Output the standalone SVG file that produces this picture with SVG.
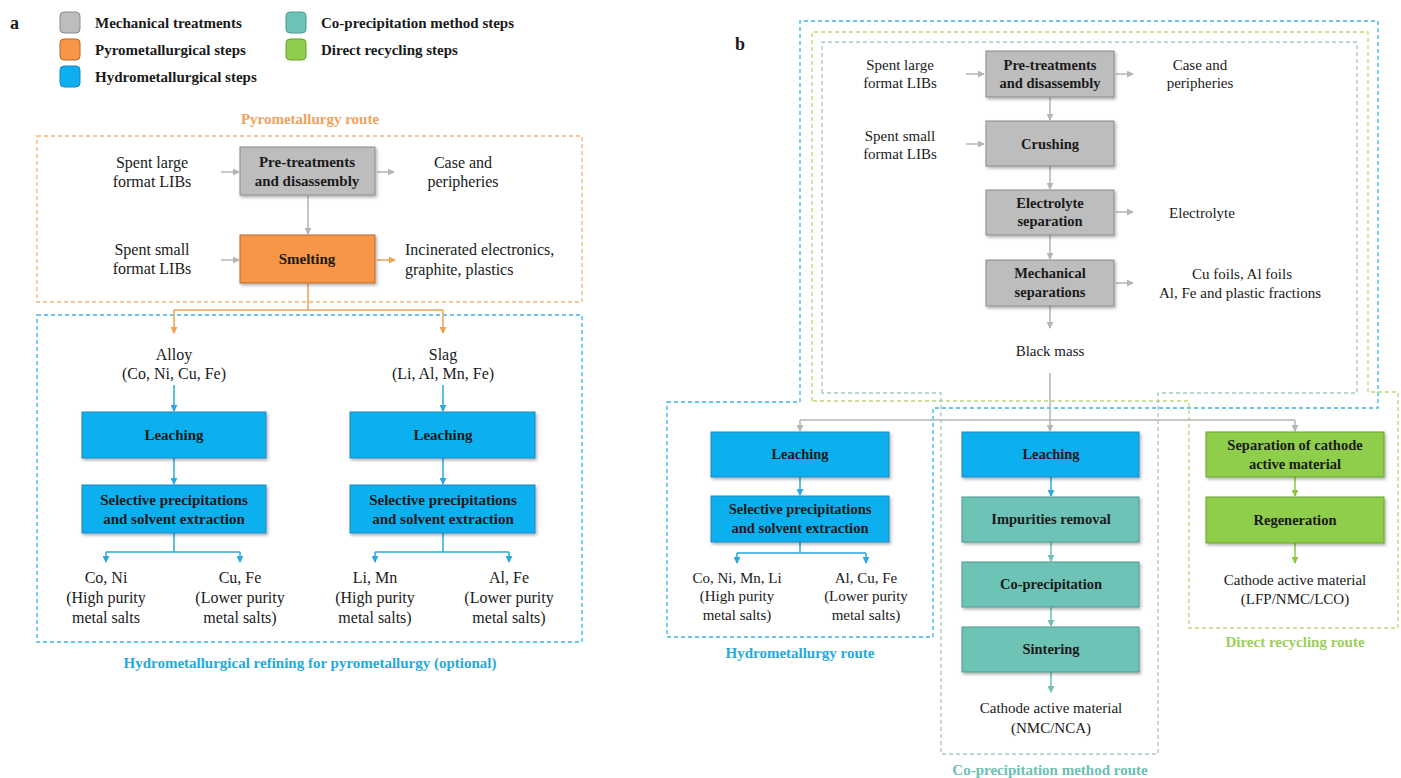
<svg xmlns="http://www.w3.org/2000/svg" width="1401" height="778" viewBox="0 0 1401 778" font-family="'Liberation Serif','Times New Roman',serif">
<style>
text{font-family:"Liberation Serif","Times New Roman",serif;fill:#1a1a1a}
.ta{font-size:16px}
.tb{font-size:15px}
.bx{font-size:15px;font-weight:bold}
.bxb{font-size:14.5px;font-weight:bold}
.lg{font-size:15px;font-weight:bold}
.c{text-anchor:middle}
.gray{fill:#bdbdbd;stroke:#8a8a8a;stroke-width:1}
.orange{fill:#f79646;stroke:#b8682a;stroke-width:1}
.blue{fill:#0db0ef;stroke:#1e86c0;stroke-width:1}
.teal{fill:#6dc3b6;stroke:#4b9a8e;stroke-width:1}
.green{fill:#8fce4c;stroke:#66a02e;stroke-width:1}
.sh{filter:url(#shadow)}
.dash{fill:none;stroke-width:1.3;stroke-dasharray:4 3}
.cg{stroke:#b5b5b5;stroke-width:1.5;fill:none}
.co{stroke:#f0a050;stroke-width:1.5;fill:none}
.cb{stroke:#2aa8e0;stroke-width:1.5;fill:none}
.ct{stroke:#6fbfb3;stroke-width:1.5;fill:none}
.cgr{stroke:#8dc63f;stroke-width:1.5;fill:none}
</style>
<defs>
<filter id="shadow" x="-10%" y="-10%" width="130%" height="140%">
<feDropShadow dx="1.5" dy="2" stdDeviation="1.5" flood-color="#000" flood-opacity="0.3"/>
</filter>
<marker id="ag" viewBox="0 0 8 8" refX="7" refY="4" markerWidth="7" markerHeight="7" markerUnits="userSpaceOnUse" orient="auto"><path d="M0,0 L8,4 L0,8 Z" fill="#b5b5b5"/></marker>
<marker id="ao" viewBox="0 0 8 8" refX="7" refY="4" markerWidth="7" markerHeight="7" markerUnits="userSpaceOnUse" orient="auto"><path d="M0,0 L8,4 L0,8 Z" fill="#f0a050"/></marker>
<marker id="ab" viewBox="0 0 8 8" refX="7" refY="4" markerWidth="7" markerHeight="7" markerUnits="userSpaceOnUse" orient="auto"><path d="M0,0 L8,4 L0,8 Z" fill="#2aa8e0"/></marker>
<marker id="at" viewBox="0 0 8 8" refX="7" refY="4" markerWidth="7" markerHeight="7" markerUnits="userSpaceOnUse" orient="auto"><path d="M0,0 L8,4 L0,8 Z" fill="#6fbfb3"/></marker>
<marker id="agr" viewBox="0 0 8 8" refX="7" refY="4" markerWidth="7" markerHeight="7" markerUnits="userSpaceOnUse" orient="auto"><path d="M0,0 L8,4 L0,8 Z" fill="#8dc63f"/></marker>
</defs>
<rect width="1401" height="778" fill="#ffffff"/>

<text x="10" y="29" style="font-size:18px;font-weight:bold">a</text>
<text x="735" y="50" style="font-size:18px;font-weight:bold">b</text>

<g id="legend">
<rect x="60" y="12" width="20" height="21" rx="4" class="gray"/>
<text x="95" y="28" class="lg">Mechanical treatments</text>
<rect x="60" y="39" width="20" height="21" rx="4" class="orange"/>
<text x="95" y="55" class="lg">Pyrometallurgical steps</text>
<rect x="60" y="66" width="20" height="21" rx="4" class="blue"/>
<text x="95" y="82" class="lg">Hydrometallurgical steps</text>
<rect x="286" y="12" width="20" height="21" rx="4" class="teal"/>
<text x="321" y="28" class="lg">Co-precipitation method steps</text>
<rect x="286" y="39" width="20" height="21" rx="4" class="green"/>
<text x="321" y="55" class="lg">Direct recycling steps</text>
</g>

<g id="routes">
<rect x="37" y="136" width="545" height="166" class="dash" stroke="#f2b47a"/>
<text x="310" y="124" class="c" style="font-size:15px;font-weight:bold;fill:#f2a25c">Pyrometallurgy route</text>
<rect x="37" y="315" width="545" height="327" class="dash" stroke="#3cb4e6"/>
<text x="310" y="668" class="c" style="font-size:15px;font-weight:bold;fill:#26a9e0">Hydrometallurgical refining for pyrometallurgy (optional)</text>
<path d="M667,402 H800 V21 H1378 V408 H933 V637 H667 Z" class="dash" stroke="#3cb4e6"/>
<path d="M812,401 V32 H1368 V392 H1398 V628 H1189 V401 Z" class="dash" stroke="#bcd67a"/>
<path d="M822,393 V42 H1357 V393 H1158 V754 H941 V393 Z" class="dash" stroke="#a6c6c4"/>
<text x="800" y="658" class="c" style="font-size:15px;font-weight:bold;fill:#26a9e0">Hydrometallurgy route</text>
<text x="1050" y="775" class="c" style="font-size:15px;font-weight:bold;fill:#6cbfb3">Co-precipitation method route</text>
<text x="1295" y="647" class="c" style="font-size:15px;font-weight:bold;fill:#9bcf5a">Direct recycling route</text>
</g>

<g id="connectors">
<line x1="221" y1="172" x2="239" y2="172" class="cg" marker-end="url(#ag)"/>
<line x1="377" y1="172" x2="394" y2="172" class="cg" marker-end="url(#ag)"/>
<line x1="308" y1="196" x2="308" y2="234" class="cg" marker-end="url(#ag)"/>
<line x1="221" y1="260" x2="239" y2="260" class="cg" marker-end="url(#ag)"/>
<line x1="377" y1="260" x2="395" y2="260" class="co" marker-end="url(#ao)"/>
<path d="M308,284 V310 M174,310 H443" class="co"/>
<line x1="174" y1="310" x2="174" y2="333" class="co" marker-end="url(#ao)"/>
<line x1="443" y1="310" x2="443" y2="333" class="co" marker-end="url(#ao)"/>
<line x1="174" y1="385" x2="174" y2="411" class="cb" marker-end="url(#ab)"/>
<line x1="443" y1="385" x2="443" y2="411" class="cb" marker-end="url(#ab)"/>
<line x1="174" y1="458" x2="174" y2="484" class="cb" marker-end="url(#ab)"/>
<line x1="443" y1="458" x2="443" y2="484" class="cb" marker-end="url(#ab)"/>
<path d="M174,533 V552 M106,552 H240 M443,533 V552 M375,552 H509" class="cb"/>
<line x1="106" y1="552" x2="106" y2="562" class="cb" marker-end="url(#ab)"/>
<line x1="240" y1="552" x2="240" y2="562" class="cb" marker-end="url(#ab)"/>
<line x1="375" y1="552" x2="375" y2="562" class="cb" marker-end="url(#ab)"/>
<line x1="509" y1="552" x2="509" y2="562" class="cb" marker-end="url(#ab)"/>

<line x1="966" y1="74" x2="984" y2="74" class="cg" marker-end="url(#ag)"/>
<line x1="1116" y1="74" x2="1133" y2="74" class="cg" marker-end="url(#ag)"/>
<line x1="966" y1="144" x2="984" y2="144" class="cg" marker-end="url(#ag)"/>
<line x1="1116" y1="212" x2="1133" y2="212" class="cg" marker-end="url(#ag)"/>
<line x1="1116" y1="283" x2="1133" y2="283" class="cg" marker-end="url(#ag)"/>
<line x1="1050" y1="97" x2="1050" y2="120" class="cg" marker-end="url(#ag)"/>
<line x1="1050" y1="166" x2="1050" y2="189" class="cg" marker-end="url(#ag)"/>
<line x1="1050" y1="235" x2="1050" y2="259" class="cg" marker-end="url(#ag)"/>
<line x1="1050" y1="306" x2="1050" y2="328" class="cg" marker-end="url(#ag)"/>
<line x1="1050" y1="373" x2="1050" y2="431" class="cg" marker-end="url(#ag)"/>
<path d="M800,420 H1295" class="cg"/>
<line x1="800" y1="420" x2="800" y2="431" class="cg" marker-end="url(#ag)"/>
<line x1="1295" y1="420" x2="1295" y2="431" class="cg" marker-end="url(#ag)"/>
<line x1="800" y1="477" x2="800" y2="495" class="cb" marker-end="url(#ab)"/>
<path d="M800,542 V553 M737,553 H866" class="cb"/>
<line x1="737" y1="553" x2="737" y2="563" class="cb" marker-end="url(#ab)"/>
<line x1="866" y1="553" x2="866" y2="563" class="cb" marker-end="url(#ab)"/>
<line x1="1051" y1="477" x2="1051" y2="496" class="cb" marker-end="url(#ab)"/>
<line x1="1051" y1="542" x2="1051" y2="561" class="ct" marker-end="url(#at)"/>
<line x1="1051" y1="607" x2="1051" y2="626" class="ct" marker-end="url(#at)"/>
<line x1="1051" y1="672" x2="1051" y2="692" class="ct" marker-end="url(#at)"/>
<line x1="1295" y1="477" x2="1295" y2="496" class="cgr" marker-end="url(#agr)"/>
<line x1="1295" y1="543" x2="1295" y2="563" class="cgr" marker-end="url(#agr)"/>
</g>

<g id="a-spent-large"><text x="152" y="168" class="ta c">Spent large</text><text x="152" y="187" class="ta c">format LIBs</text></g>
<g id="a-pretreat"><rect x="240" y="147" width="135" height="48" class="gray sh"/><text x="307" y="167" class="bx c">Pre-treatments</text><text x="307" y="186" class="bx c">and disassembly</text></g>
<g id="a-case"><text x="463" y="168" class="ta c">Case and</text><text x="463" y="187" class="ta c">peripheries</text></g>
<g id="a-spent-small"><text x="152" y="255" class="ta c">Spent small</text><text x="152" y="274" class="ta c">format LIBs</text></g>
<g id="a-smelting"><rect x="240" y="235" width="135" height="48" class="orange sh"/><text x="307" y="264" class="bx c">Smelting</text></g>
<g id="a-incinerated"><text x="405" y="255" class="ta">Incinerated electronics,</text><text x="405" y="275" class="ta">graphite, plastics</text></g>
<g id="a-alloy"><text x="174" y="360" class="ta c">Alloy</text><text x="174" y="379" class="ta c">(Co, Ni, Cu, Fe)</text></g>
<g id="a-slag"><text x="443" y="360" class="ta c">Slag</text><text x="443" y="379" class="ta c">(Li, Al, Mn, Fe)</text></g>
<g id="a-leach1"><rect x="82" y="412" width="184" height="46" class="blue sh"/><text x="174" y="440" class="bx c">Leaching</text></g>
<g id="a-leach2"><rect x="350" y="412" width="185" height="46" class="blue sh"/><text x="443" y="440" class="bx c">Leaching</text></g>
<g id="a-sel1"><rect x="82" y="485" width="184" height="48" class="blue sh"/><text x="174" y="505" class="bx c">Selective precipitations</text><text x="174" y="524" class="bx c">and solvent extraction</text></g>
<g id="a-sel2"><rect x="350" y="485" width="185" height="48" class="blue sh"/><text x="443" y="505" class="bx c">Selective precipitations</text><text x="443" y="524" class="bx c">and solvent extraction</text></g>
<g id="a-coni"><text x="106" y="583" class="ta c">Co, Ni</text><text x="106" y="603" class="ta c">(High purity</text><text x="106" y="623" class="ta c">metal salts</text></g>
<g id="a-cufe"><text x="240" y="583" class="ta c">Cu, Fe</text><text x="240" y="603" class="ta c">(Lower purity</text><text x="240" y="623" class="ta c">metal salts)</text></g>
<g id="a-limn"><text x="375" y="583" class="ta c">Li, Mn</text><text x="375" y="603" class="ta c">(High purity</text><text x="375" y="623" class="ta c">metal salts)</text></g>
<g id="a-alfe"><text x="509" y="583" class="ta c">Al, Fe</text><text x="509" y="603" class="ta c">(Lower purity</text><text x="509" y="623" class="ta c">metal salts)</text></g>

<g id="b-spent-large"><text x="900" y="70" class="tb c">Spent large</text><text x="900" y="88" class="tb c">format LIBs</text></g>
<g id="b-pretreat"><rect x="986" y="51" width="128" height="46" class="gray sh"/><text x="1050" y="70" class="bxb c">Pre-treatments</text><text x="1050" y="88" class="bxb c">and disassembly</text></g>
<g id="b-case"><text x="1200" y="70" class="tb c">Case and</text><text x="1200" y="88" class="tb c">peripheries</text></g>
<g id="b-spent-small"><text x="900" y="141" class="tb c">Spent small</text><text x="900" y="159" class="tb c">format LIBs</text></g>
<g id="b-crushing"><rect x="986" y="121" width="128" height="45" class="gray sh"/><text x="1050" y="149" class="bxb c">Crushing</text></g>
<g id="b-electro"><rect x="986" y="190" width="128" height="45" class="gray sh"/><text x="1050" y="208" class="bxb c">Electrolyte</text><text x="1050" y="226" class="bxb c">separation</text></g>
<g id="b-electrolyte"><text x="1202" y="218" class="tb c">Electrolyte</text></g>
<g id="b-mech"><rect x="986" y="260" width="128" height="46" class="gray sh"/><text x="1050" y="278" class="bxb c">Mechanical</text><text x="1050" y="297" class="bxb c">separations</text></g>
<g id="b-foils"><text x="1242" y="279" class="tb c">Cu foils, Al foils</text><text x="1240" y="298" class="tb c">Al, Fe and plastic fractions</text></g>
<g id="b-blackmass"><text x="1050" y="356" class="tb c">Black mass</text></g>
<g id="b-hleach"><rect x="711" y="432" width="178" height="45" class="blue sh"/><text x="800" y="459" class="bxb c">Leaching</text></g>
<g id="b-hsel"><rect x="711" y="496" width="178" height="46" class="blue sh"/><text x="800" y="514" class="bxb c">Selective precipitations</text><text x="800" y="533" class="bxb c">and solvent extraction</text></g>
<g id="b-conimnli"><text x="737" y="583" class="tb c">Co, Ni, Mn, Li</text><text x="737" y="601" class="tb c">(High purity</text><text x="737" y="620" class="tb c">metal salts)</text></g>
<g id="b-alcufe"><text x="866" y="583" class="tb c">Al, Cu, Fe</text><text x="866" y="601" class="tb c">(Lower purity</text><text x="866" y="620" class="tb c">metal salts)</text></g>
<g id="b-cleach"><rect x="962" y="432" width="177" height="45" class="blue sh"/><text x="1051" y="459" class="bxb c">Leaching</text></g>
<g id="b-impur"><rect x="962" y="497" width="177" height="45" class="teal sh"/><text x="1051" y="524" class="bxb c">Impurities removal</text></g>
<g id="b-coprec"><rect x="962" y="562" width="177" height="45" class="teal sh"/><text x="1051" y="589" class="bxb c">Co-precipitation</text></g>
<g id="b-sinter"><rect x="962" y="627" width="177" height="45" class="teal sh"/><text x="1051" y="654" class="bxb c">Sintering</text></g>
<g id="b-cam1"><text x="1051" y="713" class="tb c">Cathode active material</text><text x="1051" y="733" class="tb c">(NMC/NCA)</text></g>
<g id="b-sepcat"><rect x="1206" y="432" width="178" height="45" class="green sh"/><text x="1295" y="450" class="bxb c">Separation of cathode</text><text x="1295" y="469" class="bxb c">active material</text></g>
<g id="b-regen"><rect x="1206" y="497" width="178" height="46" class="green sh"/><text x="1295" y="525" class="bxb c">Regeneration</text></g>
<g id="b-cam2"><text x="1295" y="585" class="tb c">Cathode active material</text><text x="1295" y="604" class="tb c">(LFP/NMC/LCO)</text></g>
</svg>
